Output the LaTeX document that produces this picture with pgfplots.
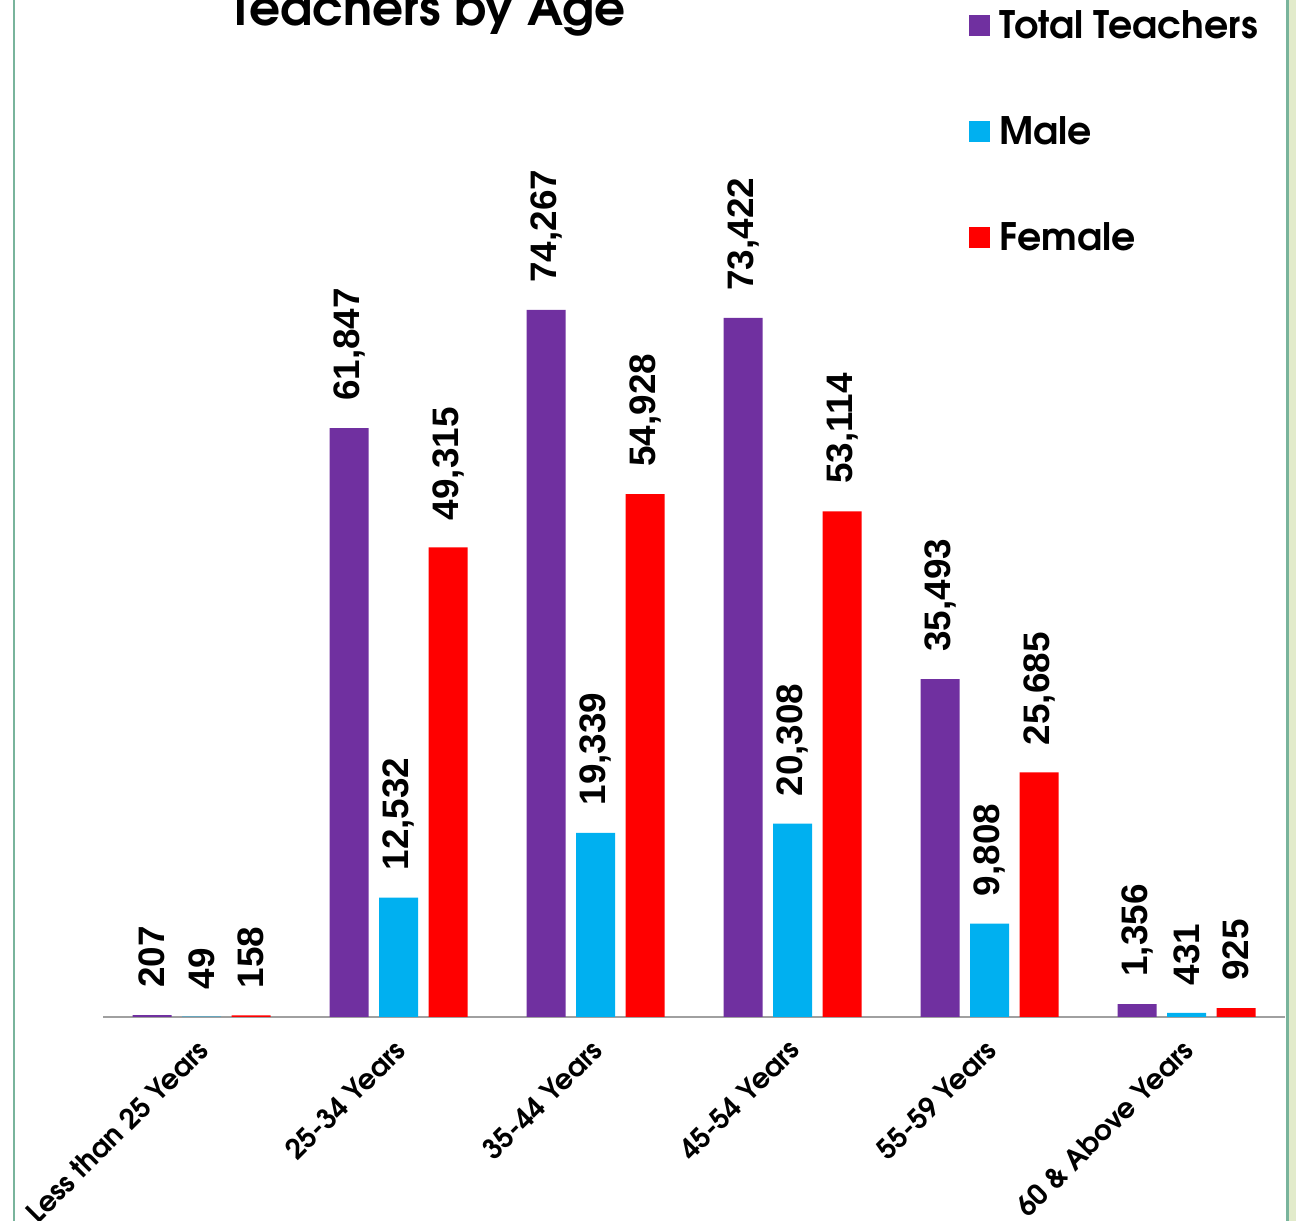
\documentclass[border=0pt]{standalone}
\usepackage{pgfplots}
\pgfplotsset{compat=1.18}
\usepackage{fontspec}
\setmainfont{TeX Gyre Adventor}
\newfontfamily\labfont{Liberation Sans}
\definecolor{totc}{HTML}{7030A0}
\definecolor{malec}{HTML}{00B0F0}
\definecolor{femc}{HTML}{FF0000}
\definecolor{borderg}{HTML}{79B49C}
\definecolor{bgright}{HTML}{E2EBCB}
\definecolor{axisgray}{HTML}{A0A0A0}

\begin{document}
\begin{tikzpicture}[x=0.5bp,y=0.5bp]
\useasboundingbox (0,0) rectangle (1296,1221);
\clip (0,0) rectangle (1296,1221);
\fill[white] (0,0) rectangle (1296,1221);
\fill[bgright] (1288,0) rectangle (1296,1221);
\fill[borderg] (12.5,0) rectangle (15,1221);
\fill[borderg] (1285.5,0) rectangle (1288.5,1221);
\coordinate (O) at (103,204);
\begin{axis}[
  at={(O)}, anchor=south west,
  scale only axis,
  width=591bp, height=476bp,
  xmin=-0.5, xmax=5.5,
  ymin=0, ymax=100000,
  clip=false,
  ybar=5.25bp, bar width=19.5bp,
  axis x line*=bottom,
  axis y line=none,
  x axis line style={-, draw=axisgray, line width=1bp},
  major tick length=0pt,
  xtick=data,
  xticklabels={Less than 25 Years,25-34 Years,35-44 Years,45-54 Years,55-59 Years,60 \& Above Years},
  xticklabel style={xshift=-3bp, anchor=north east, rotate=45, inner sep=0pt, font=\bfseries\fontsize{14}{15}\selectfont},
  xticklabel shift=10bp,
  nodes near coords={\pgfmathprintnumber[assume math mode=true]{\pgfplotspointmeta}},
  every node near coord/.append style={rotate=90, anchor=west, text=black, inner xsep=13.5bp, inner ysep=0pt,
    font=\labfont\bfseries\fontsize{18.5}{20}\selectfont},
  title={Teachers by Age},
  title style={at={(0.275,1.029)}, anchor=base, inner sep=0pt, font=\bfseries\fontsize{24.4}{26}\selectfont},
  legend style={at={(0.7327,1.062)}, anchor=north west, draw=none, fill=none, inner sep=0pt,
    row sep=33.5bp, column sep=2.5bp, font=\bfseries\fontsize{19}{21}\selectfont},
  legend cell align=left,
  legend image code/.code={\fill[#1] (0bp,-5.25bp) rectangle (10.5bp,5.25bp);},
]
\addplot[fill=totc, draw=none] coordinates {(0,207) (1,61847) (2,74267) (3,73422) (4,35493) (5,1356)};
\addplot[fill=malec, draw=none] coordinates {(0,49) (1,12532) (2,19339) (3,20308) (4,9808) (5,431)};
\addplot[fill=femc, draw=none] coordinates {(0,158) (1,49315) (2,54928) (3,53114) (4,25685) (5,925)};
\legend{Total Teachers,Male,Female}
\end{axis}
\end{tikzpicture}
\end{document}
